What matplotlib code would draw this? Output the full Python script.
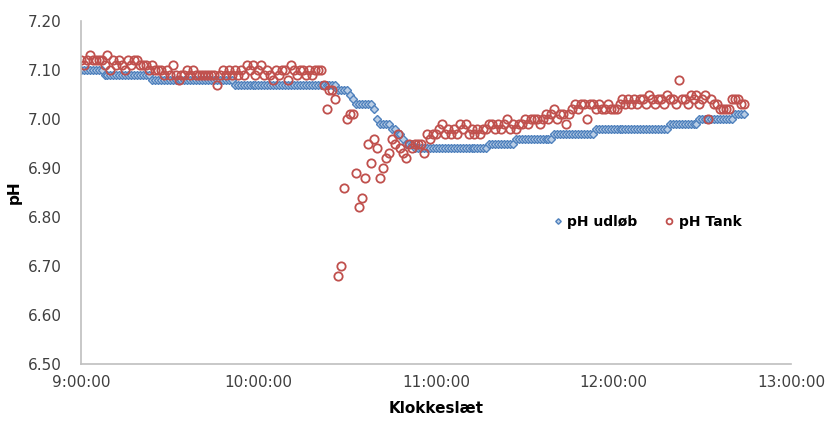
import numpy as np
import matplotlib
matplotlib.use("Agg")
import matplotlib.pyplot as plt

# pH logged once per minute from 9:00:00
start_hour = 9.0

# pH udløb (outlet) (level, number of minutes)
udlob_levels = [7.10, 7.09, 7.08, 7.07, 7.06, 7.05, 7.04, 7.03, 7.02, 7.00,
                6.99, 6.98, 6.97, 6.96, 6.95, 6.94, 6.95, 6.96, 6.97, 6.98,
                6.99, 7.00, 7.01]
udlob_counts = [8, 16, 28, 35, 4, 1, 1, 6, 1, 1,
                4, 2, 2, 1, 3, 25, 9, 13, 14, 25,
                10, 12, 4]

# pH Tank - one value per minute
tank = [
    7.12, 7.11, 7.12, 7.13, 7.12, 7.12, 7.12, 7.12, 7.11, 7.13,
    7.10, 7.12, 7.11, 7.12, 7.11, 7.10, 7.12, 7.11, 7.12, 7.12,
    7.11, 7.11, 7.11, 7.10, 7.11, 7.10, 7.10, 7.10, 7.09, 7.10,
    7.09, 7.11, 7.09, 7.08, 7.09, 7.09, 7.10, 7.09, 7.10, 7.09,
    7.09, 7.09, 7.09, 7.09, 7.09, 7.09, 7.07, 7.09, 7.10, 7.09,
    7.10, 7.09, 7.10, 7.09, 7.10, 7.09, 7.11, 7.10, 7.11, 7.09,
    7.10, 7.11, 7.09, 7.10, 7.09, 7.08, 7.10, 7.09, 7.10, 7.10,
    7.08, 7.11, 7.10, 7.09, 7.10, 7.10, 7.09, 7.10, 7.09, 7.10,
    7.10, 7.10, 7.07, 7.02, 7.06, 7.06, 7.04, 6.68, 6.70, 6.86,
    7.00, 7.01, 7.01, 6.89, 6.82, 6.84, 6.88, 6.95, 6.91, 6.96,
    6.94, 6.88, 6.90, 6.92, 6.93, 6.96, 6.95, 6.97, 6.94, 6.93,
    6.92, 6.95, 6.94, 6.95, 6.95, 6.95, 6.93, 6.97, 6.96, 6.97,
    6.97, 6.98, 6.99, 6.97, 6.98, 6.97, 6.98, 6.97, 6.99, 6.98,
    6.99, 6.97, 6.98, 6.97, 6.98, 6.97, 6.98, 6.98, 6.99, 6.99,
    6.98, 6.99, 6.98, 6.99, 7.00, 6.98, 6.99, 6.98, 6.99, 6.99,
    7.00, 6.99, 7.00, 7.00, 7.00, 6.99, 7.00, 7.01, 7.00, 7.01,
    7.02, 7.00, 7.01, 7.01, 6.99, 7.01, 7.02, 7.03, 7.02, 7.03,
    7.03, 7.00, 7.03, 7.03, 7.02, 7.03, 7.02, 7.02, 7.03, 7.02,
    7.02, 7.02, 7.03, 7.04, 7.03, 7.04, 7.03, 7.04, 7.03, 7.04,
    7.04, 7.03, 7.05, 7.04, 7.03, 7.04, 7.04, 7.03, 7.05, 7.04,
    7.04, 7.03, 7.08, 7.04, 7.04, 7.03, 7.05, 7.04, 7.05, 7.03,
    7.04, 7.05, 7.00, 7.04, 7.03, 7.03, 7.02, 7.02, 7.02, 7.02,
    7.04, 7.04, 7.04, 7.03, 7.03,
]

x_ticks = [9, 10, 11, 12, 13]
x_tick_labels = ["9:00:00", "10:00:00", "11:00:00", "12:00:00", "13:00:00"]
y_ticks = [6.50, 6.60, 6.70, 6.80, 6.90, 7.00, 7.10, 7.20]

udlob = np.repeat(udlob_levels, udlob_counts)
t_udlob = start_hour + np.arange(len(udlob)) / 60.0
t_tank = start_hour + np.arange(len(tank)) / 60.0

fig = plt.figure(figsize=(8.25, 4.21), dpi=100)
ax = fig.add_axes([0.098, 0.135, 0.861, 0.815])

ax.plot(t_udlob, udlob, linestyle="none", marker="D", markersize=4,
        markerfacecolor="#B9CDE5", markeredgecolor="#4F81BD",
        markeredgewidth=1.0, label="pH udløb")
ax.plot(t_tank, tank, linestyle="none", marker="o", markersize=6,
        markerfacecolor="none", markeredgecolor="#C0504D",
        markeredgewidth=1.3, label="pH Tank")

ax.set_xlim(9, 13)
ax.set_ylim(6.50, 7.20)
ax.set_xticks(x_ticks)
ax.set_xticklabels(x_tick_labels)
ax.set_yticks(y_ticks)
ax.set_yticklabels([f"{v:.2f}" for v in y_ticks])

for side in ["top", "right"]:
    ax.spines[side].set_visible(False)
for side in ["left", "bottom"]:
    ax.spines[side].set_color("#BFBFBF")
    ax.spines[side].set_linewidth(1.2)

ax.tick_params(axis="both", length=0, labelsize=11, colors="#404040")
ax.tick_params(axis="y", pad=14)
ax.tick_params(axis="x", pad=8)

ax.set_xlabel("Klokkeslæt", fontsize=11, fontweight="bold", labelpad=8)
ax.set_ylabel("pH", fontsize=11, fontweight="bold")
ax.yaxis.set_label_coords(-0.083, 0.5)

leg = ax.legend(loc="center", bbox_to_anchor=(0.795, 0.415), ncol=2,
                frameon=False, handletextpad=0.1, columnspacing=1.7,
                handlelength=1.2, markerscale=0.7,
                prop={"weight": "bold", "size": 10})

fig.savefig("out.png", dpi=100)
